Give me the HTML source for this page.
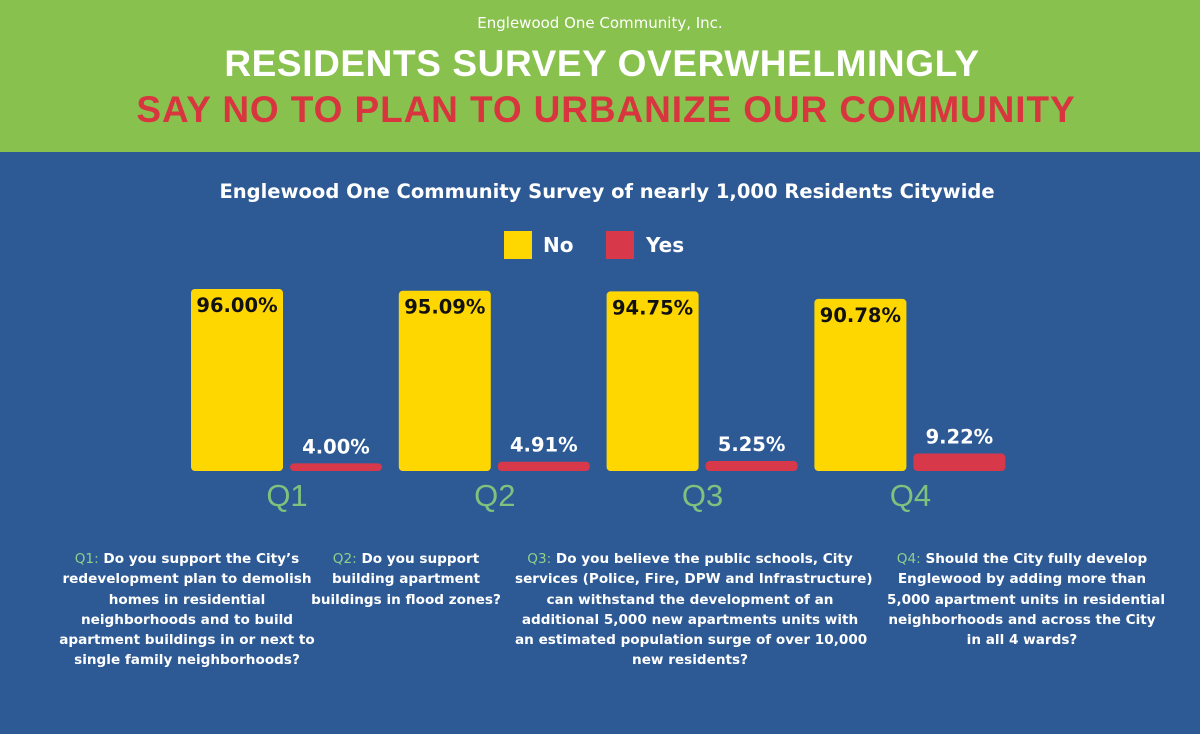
<!DOCTYPE html>
<html><head><meta charset="utf-8"><style>
body{margin:0;width:1200px;height:734px;overflow:hidden;background:#2d5a95;font-family:"DejaVu Sans","Liberation Sans",sans-serif;position:relative}
.hdr{position:absolute;left:0;top:0;width:1200px;height:152px;background:#89c14f}
.abs{position:absolute;text-align:center;white-space:nowrap}
.q{position:absolute;color:#fff;font-weight:bold;font-size:13.6px;line-height:20.3px;text-align:center;top:549px;white-space:nowrap}
.q b{color:#8fd08a;font-weight:normal}
</style></head><body>
<div class="hdr"></div>
<div class="abs" style="left:0;width:1200px;top:14px;color:#fff;font-size:15px">Englewood One Community, Inc.</div>
<div class="abs" style="left:0;width:1204px;top:43px;color:#fff;font-size:37px;font-weight:bold;font-family:'Liberation Sans',sans-serif;letter-spacing:0.6px">RESIDENTS SURVEY OVERWHELMINGLY</div>
<div class="abs" style="left:0;width:1212px;top:89px;color:#d8353f;font-size:37px;font-weight:bold;font-family:'Liberation Sans',sans-serif;letter-spacing:0.9px">SAY NO TO PLAN TO URBANIZE OUR COMMUNITY</div>
<div class="abs" style="left:0;width:1214px;top:180px;color:#fff;font-size:19.5px;font-weight:bold">Englewood One Community Survey of nearly 1,000 Residents Citywide</div>
<div style="position:absolute;left:504px;top:231px;width:28px;height:28px;background:#ffd700"></div>
<div style="position:absolute;left:543px;top:233px;color:#fff;font-size:20px;font-weight:bold">No</div>
<div style="position:absolute;left:606px;top:231px;width:28px;height:28px;background:#d8394a"></div>
<div style="position:absolute;left:646px;top:233px;color:#fff;font-size:20px;font-weight:bold">Yes</div>
<svg id="chart" width="1200" height="734" style="position:absolute;left:0;top:0"></svg>
<div class="q" style="left:27px;width:320px"><b>Q1:</b> Do you support the City’s<br>redevelopment plan to demolish<br>homes in residential<br>neighborhoods and to build<br>apartment buildings in or next to<br>single family neighborhoods?</div>
<div class="q" style="left:306px;width:200px"><b>Q2:</b> Do you support<br>building apartment<br>buildings in flood zones?</div>
<div class="q" style="left:515px;width:350px"><b>Q3:</b> Do you believe the public schools, City<br>services (Police, Fire, DPW and Infrastructure)<br>can withstand the development of an<br>additional 5,000 new apartments units with<br>an estimated population surge of over 10,000<br>new residents?</div>
<div class="q" style="left:887px;width:270px"><b>Q4:</b> Should the City fully develop<br>Englewood by adding more than<br>5,000 apartment units in residential<br>neighborhoods and across the City<br>in all 4 wards?</div>
<script>
const categories=["Q1","Q2","Q3","Q4"];
const noValues=[96.00,95.09,94.75,90.78];
const yesValues=[4.00,4.91,5.25,9.22];
const svg=document.getElementById('chart');const NS='http://www.w3.org/2000/svg';
const base=471,scale=1.896,x0=191,step=207.8,bw=92;
const y=v=>base-v*scale;
function mk(t,a){const e=document.createElementNS(NS,t);for(const k in a)e.setAttribute(k,a[k]);svg.appendChild(e);return e;}
categories.forEach((c,i)=>{
 const gx=x0+i*step;
 const yb=mk('rect',{x:gx,y:y(noValues[i]),width:bw,height:noValues[i]*scale,rx:4,fill:'#ffd700'});
 
 
 const rb=mk('rect',{x:gx+99,y:y(yesValues[i]),width:bw,height:yesValues[i]*scale,rx:4,fill:'#d8394a'});
 
 
 const t1=mk('text',{x:gx+bw/2,y:y(noValues[i])+23,'text-anchor':'middle','font-size':'19.5','font-weight':'bold',fill:'#111','font-family':'DejaVu Sans'});
 t1.textContent=noValues[i].toFixed(2)+'%';
 
 
 const t2=mk('text',{x:gx+99+bw/2,y:y(yesValues[i])-10,'text-anchor':'middle','font-size':'19.5','font-weight':'bold',fill:'#fff','font-family':'DejaVu Sans'});
 t2.textContent=yesValues[i].toFixed(2)+'%';
 
 
 const t3=mk('text',{x:gx+96,y:506,'text-anchor':'middle','font-size':'31',fill:'#7fc27e','font-family':'Liberation Sans'});
 t3.textContent=c;
 
 
});
</script>
</body></html>
